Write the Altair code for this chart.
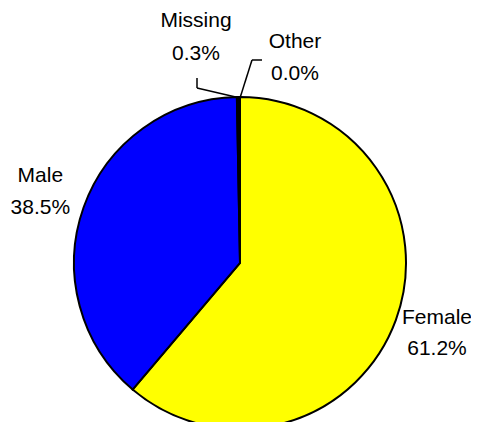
import altair as alt
import pandas as pd

categories = ["Female", "Male", "Missing", "Other"]
values = [61.2, 38.5, 0.3, 0.0]
colors = ["#FFFF00", "#0000FF", "#000000", "#00FFFF"]

df = pd.DataFrame({
    "cat": categories,
    "val": values,
    "idx": list(range(len(categories))),
    "label": [f"{c}\n{v:.1f}%" for c, v in zip(categories, values)],
})

CX, CY, R = 232, 255, 166
FONT = "Liberation Sans"
total = sum(values)
theta_scale = alt.Scale(domain=[0, total], range=[0, 6.283185307179586])

base = alt.Chart(df).transform_window(
    cum="sum(val)", sort=[alt.SortField("idx")], frame=[None, 0]
).transform_calculate(
    start="datum.cum - datum.val",
    mid="datum.cum - datum.val / 2",
)

pie = base.mark_arc(outerRadius=R, stroke="black", strokeWidth=2).encode(
    theta=alt.Theta("start:Q", scale=theta_scale),
    theta2="cum:Q",
    color=alt.Color("cat:N", scale=alt.Scale(domain=categories, range=colors), legend=None),
    x=alt.value(CX),
    y=alt.value(CY),
)

def text_layer(cat, radius, dx=0, dy=0, lh=31):
    return base.transform_filter(alt.datum.cat == cat).mark_text(
        radius=radius, dx=dx, dy=dy, lineBreak="\n", font=FONT, fontSize=21,
        lineHeight=lh, align="center", baseline="middle", color="black",
    ).encode(
        theta=alt.Theta("mid:Q", scale=theta_scale),
        text="label:N", x=alt.value(CX), y=alt.value(CY),
    )

labels = [
    text_layer("Female", 212, dx=-2, dy=-18),
    text_layer("Male", 212, dy=-16, lh=32),
    text_layer("Missing", 212, dx=-42, dy=-30, lh=33),
    text_layer("Other", 212, dx=55, dy=-9, lh=32),
]

def rule(x1, y1, x2, y2):
    return alt.Chart(df).transform_filter(alt.datum.idx == 0).mark_rule(
        color="black", strokeWidth=1.5
    ).encode(x=alt.value(x1), y=alt.value(y1), x2=alt.value(x2), y2=alt.value(y2))

leaders = [
    rule(CX, 90, 189, 80), rule(189, 80, 189, 70),
    rule(CX, 90, 244, 52), rule(244, 52, 254, 52),
]

chart = alt.layer(pie, *leaders, *labels).properties(
    width=463, height=414, autosize=alt.AutoSizeParams(type="none"), padding=0
).configure_view(stroke=None)

chart.save("out.html", embed_options={"renderer": "svg", "actions": False})
